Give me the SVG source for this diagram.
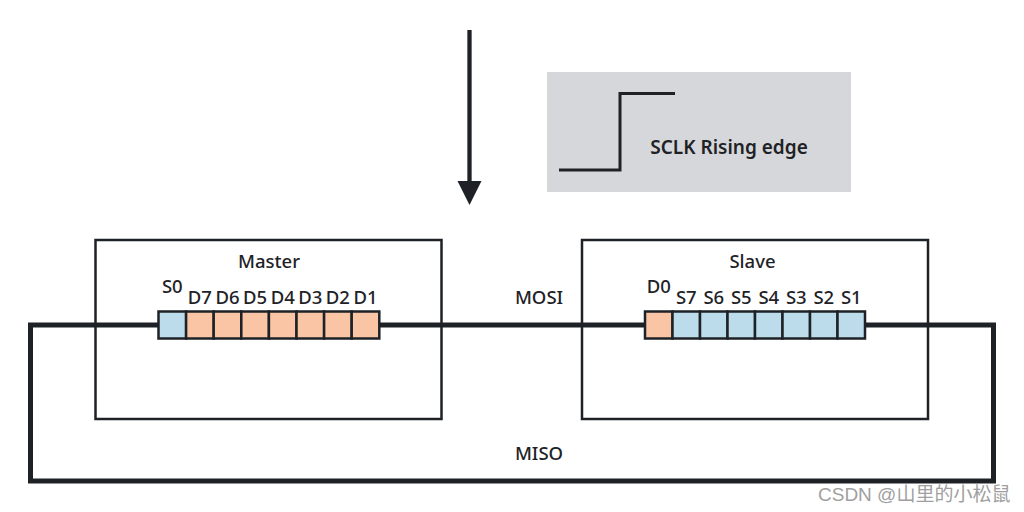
<svg xmlns="http://www.w3.org/2000/svg" width="1024" height="512" viewBox="0 0 1024 512">
<defs>
<style>
.box{fill:none;stroke:#1e2226;stroke-width:2.5}
.wire{fill:none;stroke:#1e2226;stroke-width:5}
.b{fill:#bcdcec;stroke:#1e2226;stroke-width:2.5}
.o{fill:#f9c5a5;stroke:#1e2226;stroke-width:2.5}
.t{font-family:"Noto Sans","Open Sans",sans-serif;font-size:18.5px;font-weight:500;fill:#1e2226;text-anchor:middle}
.wm{font-family:"Liberation Sans","Noto Sans CJK SC",sans-serif;font-size:19px;fill:#a0a0a0;stroke:#ffffff;stroke-width:0.6;paint-order:stroke}
</style>
</defs>
<rect width="1024" height="512" fill="#ffffff"/>

<g id="connectors">
<path class="wire" d="M158,325 H30.5 V481 H993.5 V325 H865"/>
<path class="wire" d="M379,325 H645"/>
<line x1="469.5" y1="30" x2="469.5" y2="184" stroke="#1e2226" stroke-width="4.3"/>
<polygon points="457.5,181 481.5,181 469.5,205" fill="#1e2226"/>
<text class="t" x="539" y="304">MOSI</text>
<text class="t" x="539" y="460">MISO</text>
</g>

<g id="sclk">
<rect x="547" y="72" width="304" height="120" fill="#d6d7da"/>
<path d="M559,170 H620 V93.5 H675" fill="none" stroke="#1e2226" stroke-width="3"/>
<text x="729" y="154" style="font-family:'Noto Sans','Open Sans',sans-serif;font-size:19px;font-weight:600;fill:#1e2226;text-anchor:middle">SCLK Rising edge</text>
</g>

<g id="master">
<rect class="box" x="95.5" y="240" width="346" height="179"/>
<text class="t" x="269" y="268">Master</text>
<rect class="b" x="158.5" y="311.5" width="27.6" height="27"/>
<rect class="o" x="186.1" y="311.5" width="27.6" height="27"/>
<rect class="o" x="213.7" y="311.5" width="27.6" height="27"/>
<rect class="o" x="241.3" y="311.5" width="27.6" height="27"/>
<rect class="o" x="268.9" y="311.5" width="27.6" height="27"/>
<rect class="o" x="296.5" y="311.5" width="27.6" height="27"/>
<rect class="o" x="324.1" y="311.5" width="27.6" height="27"/>
<rect class="o" x="351.7" y="311.5" width="27.6" height="27"/>
<text class="t" x="172.3" y="293">S0</text>
<text class="t" x="199.9" y="304">D7</text>
<text class="t" x="227.5" y="304">D6</text>
<text class="t" x="255.1" y="304">D5</text>
<text class="t" x="282.7" y="304">D4</text>
<text class="t" x="310.3" y="304">D3</text>
<text class="t" x="337.9" y="304">D2</text>
<text class="t" x="365.5" y="304">D1</text>
</g>

<g id="slave">
<rect class="box" x="582" y="240" width="346" height="179"/>
<text class="t" x="752.5" y="268">Slave</text>
<rect class="o" x="645" y="311.5" width="27.5" height="27"/>
<rect class="b" x="672.5" y="311.5" width="27.5" height="27"/>
<rect class="b" x="700" y="311.5" width="27.5" height="27"/>
<rect class="b" x="727.5" y="311.5" width="27.5" height="27"/>
<rect class="b" x="755" y="311.5" width="27.5" height="27"/>
<rect class="b" x="782.5" y="311.5" width="27.5" height="27"/>
<rect class="b" x="810" y="311.5" width="27.5" height="27"/>
<rect class="b" x="837.5" y="311.5" width="27.5" height="27"/>
<text class="t" x="658.8" y="293">D0</text>
<text class="t" x="686.3" y="304">S7</text>
<text class="t" x="713.8" y="304">S6</text>
<text class="t" x="741.3" y="304">S5</text>
<text class="t" x="768.8" y="304">S4</text>
<text class="t" x="796.3" y="304">S3</text>
<text class="t" x="823.8" y="304">S2</text>
<text class="t" x="851.3" y="304">S1</text>
</g>

<text class="wm" x="818" y="501">CSDN @山里的小松鼠</text>
</svg>
